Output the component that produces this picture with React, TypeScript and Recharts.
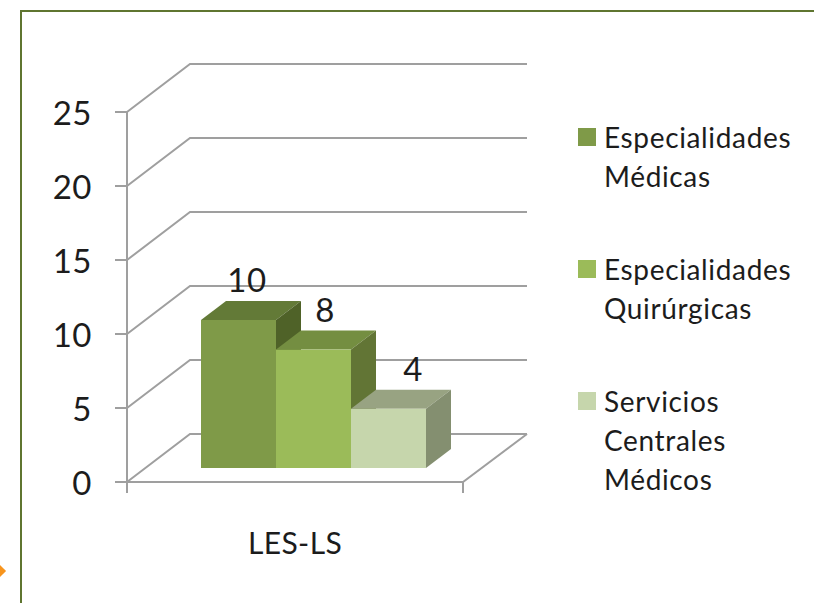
import { BarChart, Bar, XAxis, YAxis, CartesianGrid, Legend, LabelList } from 'recharts';

const categories = ['LES-LS'];
const medicas = [10];
const quirurgicas = [8];
const centrales = [4];
const yTicks = [0, 5, 10, 15, 20, 25];

const data = categories.map((name, i) => ({
  name,
  medicas: medicas[i],
  quirurgicas: quirurgicas[i],
  centrales: centrales[i],
}));

const FONT = 'Lato, Carlito, sans-serif';
const GRID = '#9f9f9f';
const TEXT = '#1c1c1c';

// fake 3d: how far the back wall sits from the front axis plane
const WALL_DX = 63;
const WALL_DY = -48;
// bars stand partway into the floor
const BAR_DX = 18.5;
const BAR_DY = -14;
const DEPTH_X = 25;
const DEPTH_Y = -19;

const Box = (props: any) => {
  const { x, y, width, height, top, side, fill } = props;
  const l = x + BAR_DX;
  const t = y + BAR_DY;
  const r = l + width;
  const b = t + height;
  return (
    <g>
      <polygon
        points={`${l},${t} ${l + DEPTH_X},${t + DEPTH_Y} ${r + DEPTH_X},${t + DEPTH_Y} ${r},${t}`}
        fill={top}
      />
      <polygon
        points={`${r},${t} ${r + DEPTH_X},${t + DEPTH_Y} ${r + DEPTH_X},${b + DEPTH_Y} ${r},${b}`}
        fill={side}
      />
      <rect x={l} y={t} width={width} height={height} fill={fill} />
    </g>
  );
};

const gridLine = (props: any) => {
  const { x1, x2, y1, index } = props;
  const isFloor = Math.abs(y1 - 482) < 1;
  const backL = x1 + WALL_DX;
  const backR = x2 + WALL_DX + 1;
  const backY = y1 + WALL_DY;
  return (
    <g key={`grid-${index}`} fill="none" stroke={GRID} strokeWidth={2}>
      <polyline points={`${x1},${y1} ${backL},${backY} ${backR},${backY}`} />
      {isFloor && <polyline points={`${x1},${y1} ${x2},${y1} ${backR},${backY}`} />}
      {isFloor && <line x1={x1} y1={y1} x2={x1} y2={y1 + 11} />}
      {isFloor && <line x1={x2} y1={y1} x2={x2} y2={y1 + 11} />}
    </g>
  );
};

const barLabel = (dx: number) => (props: any) => {
  const { x, y, width, value } = props;
  return (
    <text
      x={x + width / 2 + BAR_DX + dx}
      y={y + BAR_DY + DEPTH_Y - 22}
      textAnchor="middle"
      dominantBaseline="central"
      fontFamily={FONT}
      fontSize={33}
      letterSpacing={0.5}
      fill={TEXT}
    >
      {value}
    </text>
  );
};

const LegendBox = (props: any) => (
  <div style={{ fontFamily: FONT, fontSize: 28, lineHeight: '39px', letterSpacing: 0.65, color: TEXT }}>
    {props.payload.map((item: any) => (
      <div key={item.value} style={{ display: 'flex', marginBottom: 54 }}>
        <span
          style={{
            width: 18,
            height: 18,
            marginTop: 10,
            marginRight: 8,
            flexShrink: 0,
            background: item.color,
          }}
        />
        <span style={{ width: 195 }}>{item.value}</span>
      </div>
    ))}
  </div>
);

export default function App() {
  return (
    <div style={{ position: 'absolute', left: 0, top: 0, width: 814, height: 603, overflow: 'hidden', background: '#fff' }}>
      <div
        style={{
          position: 'absolute',
          left: 20,
          top: 10,
          width: 794,
          height: 593,
          borderTop: '2px solid #5f7530',
          borderLeft: '2px solid #5f7530',
          boxSizing: 'border-box',
        }}
      />
      <div
        style={{
          position: 'absolute',
          left: -6,
          top: 566,
          width: 10,
          height: 10,
          background: '#f7941d',
          transform: 'rotate(45deg)',
        }}
      />
      <BarChart
        width={814}
        height={603}
        data={data}
        margin={{ left: 67, top: 112, right: 121, bottom: 61 }}
        barCategoryGap={55.5}
        barGap={0}
        style={{ position: 'absolute', left: 0, top: 0 }}
      >
        <CartesianGrid vertical={false} horizontal={gridLine} />
        <XAxis
          dataKey="name"
          height={60}
          axisLine={false}
          tickLine={false}
          tickMargin={45}
          tick={{ fontFamily: FONT, fontSize: 30, letterSpacing: 0.4, fill: TEXT }}
        />
        <YAxis
          width={60}
          domain={[0, 25]}
          ticks={yTicks}
          interval={0}
          tickSize={12}
          tickMargin={23}
          axisLine={{ stroke: GRID, strokeWidth: 2 }}
          tickLine={{ stroke: GRID, strokeWidth: 2 }}
          tick={{ fontFamily: FONT, fontSize: 33, letterSpacing: 0.5, fill: TEXT, dy: 1 }}
        />
        <Legend
          layout="vertical"
          align="right"
          verticalAlign="top"
          content={LegendBox}
          wrapperStyle={{ position: 'absolute', left: 578, top: 118, width: 230 }}
        />
        <Bar
          dataKey="medicas"
          name="Especialidades Médicas"
          fill="#7f9a48"
          isAnimationActive={false}
          shape={(p: any) => <Box {...p} top="#637a37" side="#4f6228" />}
        >
          <LabelList dataKey="medicas" content={barLabel(8.5)} />
        </Bar>
        <Bar
          dataKey="quirurgicas"
          name="Especialidades Quirúrgicas"
          fill="#9bbb59"
          isAnimationActive={false}
          shape={(p: any) => <Box {...p} top="#748e41" side="#627535" />}
        >
          <LabelList dataKey="quirurgicas" content={barLabel(11.5)} />
        </Bar>
        <Bar
          dataKey="centrales"
          name="Servicios Centrales Médicos"
          fill="#c6d6ac"
          isAnimationActive={false}
          shape={(p: any) => <Box {...p} top="#98a382" side="#848f70" />}
        >
          <LabelList dataKey="centrales" content={barLabel(24.5)} />
        </Bar>
      </BarChart>
    </div>
  );
}
